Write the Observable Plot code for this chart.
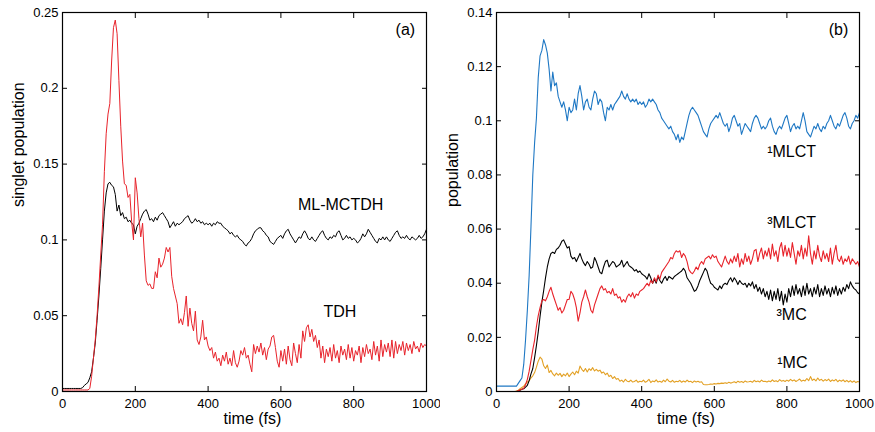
<!DOCTYPE html>
<html><head><meta charset="utf-8">
<script src="https://cdn.jsdelivr.net/npm/d3@7"></script>
<script src="https://cdn.jsdelivr.net/npm/@observablehq/plot@0.6"></script>
<style>
body{margin:0;background:#fff;}
#wrap{display:flex;width:875px;height:432px;}
</style></head><body><div id="wrap"></div>
<script>
// sample grid (fs)
const time = d3.range(0, 1001, 5);
const xTicks = [0, 200, 400, 600, 800, 1000];
const yTicksA = [0, 0.05, 0.1, 0.15, 0.2, 0.25];
const yTicksB = [0, 0.02, 0.04, 0.06, 0.08, 0.1, 0.12, 0.14];

// Panel (a)
const mlmctdh = [
0.002,0.002,0.002,0.002,0.002,0.002,0.002,0.002,0.002,0.002,
0.002,0.0025,0.004,0.005,0.006,0.009,0.013,0.022,0.032,0.047,
0.063,0.081,0.100,0.119,0.131,0.137,0.138,0.136,0.135,0.130,
0.119,0.123,0.116,0.118,0.114,0.115,0.112,0.113,0.111,0.110,
0.104,0.109,0.111,0.114,0.117,0.119,0.120,0.117,0.113,0.114,
0.112,0.115,0.113,0.116,0.117,0.118,0.116,0.114,0.112,0.108,
0.110,0.112,0.109,0.111,0.110,0.111,0.112,0.114,0.115,0.116,
0.113,0.111,0.112,0.114,0.112,0.113,0.111,0.112,0.110,0.111,
0.110,0.111,0.109,0.111,0.110,0.112,0.111,0.111,0.109,0.108,
0.107,0.106,0.104,0.105,0.103,0.102,0.103,0.101,0.100,0.099,
0.097,0.096,0.098,0.099,0.101,0.104,0.106,0.107,0.108,0.108,
0.106,0.105,0.103,0.102,0.099,0.098,0.097,0.099,0.101,0.102,
0.103,0.101,0.104,0.106,0.107,0.104,0.102,0.100,0.098,0.100,
0.102,0.101,0.104,0.106,0.104,0.101,0.100,0.102,0.100,0.099,
0.101,0.103,0.105,0.106,0.103,0.101,0.100,0.102,0.101,0.103,
0.102,0.105,0.106,0.103,0.100,0.101,0.103,0.101,0.102,0.100,
0.101,0.100,0.098,0.099,0.101,0.104,0.102,0.104,0.107,0.105,
0.103,0.101,0.099,0.098,0.101,0.100,0.102,0.100,0.102,0.100,
0.099,0.101,0.103,0.105,0.106,0.103,0.101,0.102,0.101,0.103,
0.101,0.100,0.102,0.101,0.100,0.101,0.103,0.101,0.102,0.104,
0.107];

const tdh = [
0.001,0.001,0.001,0.001,0.001,0.001,0.001,0.001,0.001,0.001,
0.001,0.001,0.001,0.001,0.001,0.002,0.010,0.022,0.034,0.050,
0.069,0.090,0.110,0.145,0.170,0.183,0.190,0.218,0.240,0.245,
0.236,0.205,0.175,0.152,0.137,0.136,0.128,0.130,0.112,0.100,
0.141,0.131,0.114,0.102,0.111,0.090,0.073,0.070,0.071,0.068,
0.068,0.079,0.075,0.088,0.082,0.084,0.088,0.095,0.092,0.095,
0.076,0.068,0.063,0.058,0.045,0.048,0.044,0.052,0.063,0.043,
0.055,0.045,0.040,0.053,0.034,0.031,0.036,0.047,0.034,0.036,
0.030,0.027,0.029,0.022,0.026,0.020,0.022,0.017,0.024,0.020,
0.026,0.018,0.022,0.017,0.027,0.019,0.016,0.020,0.027,0.024,
0.029,0.022,0.024,0.018,0.013,0.031,0.025,0.030,0.026,0.032,
0.024,0.029,0.021,0.028,0.030,0.036,0.037,0.029,0.020,0.016,
0.027,0.020,0.028,0.018,0.030,0.021,0.017,0.032,0.025,0.019,
0.031,0.022,0.040,0.033,0.042,0.044,0.036,0.041,0.033,0.037,
0.029,0.034,0.022,0.030,0.019,0.028,0.023,0.029,0.020,0.031,
0.022,0.027,0.019,0.030,0.024,0.028,0.021,0.031,0.022,0.029,
0.020,0.027,0.024,0.030,0.019,0.029,0.023,0.031,0.025,0.028,
0.021,0.033,0.024,0.030,0.020,0.034,0.023,0.031,0.026,0.032,
0.023,0.034,0.022,0.033,0.025,0.031,0.027,0.033,0.024,0.032,
0.027,0.031,0.025,0.033,0.028,0.030,0.026,0.032,0.029,0.031,
0.030];

// Panel (b)
const mlct1 = [
0.002,0.002,0.002,0.002,0.002,0.002,0.002,0.002,0.002,0.002,
0.002,0.002,0.003,0.004,0.005,0.010,0.019,0.030,0.043,0.061,
0.080,0.092,0.101,0.116,0.124,0.126,0.130,0.128,0.125,0.119,
0.111,0.118,0.113,0.114,0.109,0.107,0.105,0.107,0.104,0.100,
0.105,0.103,0.104,0.108,0.104,0.110,0.113,0.109,0.104,0.107,
0.108,0.105,0.104,0.108,0.111,0.110,0.106,0.108,0.107,0.103,
0.100,0.105,0.104,0.106,0.104,0.106,0.107,0.108,0.109,0.111,
0.109,0.108,0.110,0.108,0.107,0.108,0.107,0.108,0.106,0.107,
0.106,0.107,0.105,0.106,0.108,0.107,0.108,0.107,0.106,0.104,
0.103,0.101,0.100,0.099,0.098,0.097,0.098,0.096,0.095,0.093,
0.095,0.092,0.094,0.093,0.096,0.099,0.102,0.104,0.105,0.104,
0.103,0.102,0.100,0.098,0.096,0.095,0.094,0.097,0.099,0.100,
0.101,0.102,0.101,0.103,0.101,0.099,0.098,0.099,0.096,0.098,
0.101,0.102,0.100,0.098,0.099,0.095,0.097,0.099,0.098,0.097,
0.096,0.099,0.101,0.102,0.101,0.099,0.097,0.098,0.097,0.098,
0.100,0.101,0.098,0.096,0.095,0.097,0.098,0.097,0.099,0.101,
0.102,0.099,0.096,0.098,0.099,0.097,0.098,0.097,0.100,0.103,
0.100,0.096,0.095,0.094,0.096,0.098,0.097,0.099,0.097,0.096,
0.098,0.097,0.099,0.100,0.102,0.100,0.098,0.097,0.099,0.098,
0.100,0.102,0.103,0.101,0.098,0.097,0.099,0.100,0.102,0.101,
0.103];

const mlct3 = [
0,0,0,0,0,0,0,0,0,0,
0,0,0.0003,0.0006,0.0008,0.0012,0.0025,0.0045,0.0075,0.0115,
0.0155,0.019,0.024,0.028,0.031,0.0335,0.034,0.0335,0.035,0.037,
0.0385,0.036,0.034,0.032,0.030,0.031,0.029,0.030,0.032,0.034,
0.034,0.037,0.036,0.034,0.031,0.026,0.029,0.033,0.035,0.0375,
0.035,0.033,0.030,0.029,0.032,0.034,0.036,0.038,0.039,0.0375,
0.038,0.0365,0.037,0.036,0.038,0.0355,0.036,0.0345,0.035,0.033,
0.034,0.033,0.035,0.036,0.035,0.0365,0.0345,0.036,0.0355,0.037,
0.0375,0.038,0.039,0.040,0.039,0.041,0.040,0.042,0.0405,0.043,
0.0415,0.044,0.045,0.046,0.047,0.048,0.0495,0.049,0.051,0.052,
0.0515,0.052,0.0495,0.051,0.050,0.048,0.045,0.044,0.0435,0.0445,
0.046,0.045,0.047,0.048,0.047,0.049,0.0495,0.050,0.049,0.0505,
0.0495,0.050,0.048,0.047,0.046,0.048,0.050,0.048,0.047,0.049,
0.0475,0.050,0.048,0.051,0.046,0.049,0.047,0.051,0.048,0.050,
0.047,0.049,0.052,0.0525,0.048,0.051,0.053,0.049,0.052,0.050,
0.053,0.049,0.0545,0.050,0.052,0.048,0.053,0.055,0.050,0.054,
0.050,0.053,0.0495,0.055,0.051,0.047,0.052,0.050,0.054,0.049,
0.053,0.050,0.0575,0.051,0.047,0.052,0.049,0.054,0.050,0.048,
0.052,0.049,0.051,0.048,0.053,0.047,0.051,0.054,0.049,0.048,
0.050,0.047,0.049,0.048,0.050,0.047,0.049,0.048,0.047,0.048,
0.046];

const mc3 = [
0,0,0,0,0,0,0,0,0,0,
0,0,0.0002,0.0005,0.0008,0.001,0.0016,0.0023,0.004,0.0065,
0.0085,0.0125,0.017,0.022,0.0278,0.033,0.0373,0.042,0.046,0.049,
0.051,0.0515,0.051,0.0525,0.053,0.054,0.0555,0.056,0.0545,0.053,
0.0535,0.050,0.049,0.0495,0.048,0.0495,0.051,0.049,0.0475,0.0465,
0.048,0.047,0.0455,0.046,0.0495,0.048,0.046,0.044,0.0435,0.046,
0.048,0.0485,0.046,0.047,0.048,0.0475,0.046,0.0465,0.047,0.0485,
0.046,0.047,0.048,0.0465,0.046,0.0455,0.0445,0.045,0.044,0.0445,
0.0435,0.043,0.0425,0.0415,0.0435,0.042,0.040,0.0415,0.040,0.0425,
0.041,0.040,0.0415,0.0425,0.041,0.0425,0.042,0.0415,0.0425,0.043,
0.0435,0.044,0.0445,0.0455,0.0445,0.042,0.041,0.040,0.0385,0.037,
0.0375,0.039,0.041,0.0425,0.044,0.0455,0.0445,0.042,0.040,0.0395,
0.0385,0.038,0.0375,0.039,0.038,0.0395,0.040,0.0395,0.041,0.042,
0.0405,0.042,0.041,0.0395,0.041,0.040,0.0395,0.040,0.0385,0.040,
0.039,0.0405,0.038,0.0395,0.037,0.0385,0.036,0.038,0.035,0.037,
0.034,0.0375,0.0335,0.037,0.034,0.038,0.0335,0.037,0.032,0.036,
0.033,0.038,0.035,0.039,0.0355,0.0395,0.036,0.038,0.035,0.039,
0.0355,0.040,0.036,0.038,0.035,0.0385,0.036,0.0395,0.035,0.038,
0.0355,0.039,0.036,0.038,0.035,0.0385,0.036,0.039,0.0355,0.038,
0.036,0.0385,0.037,0.0395,0.038,0.0405,0.039,0.038,0.0375,0.0365,
0.036];

const mc1 = [
0,0,0,0,0,0,0,0,0,0,
0,0.0002,0.0005,0.001,0.0015,0.002,0.0028,0.0035,0.004,0.005,
0.0058,0.007,0.009,0.0112,0.0127,0.012,0.0095,0.0085,0.0098,0.007,
0.0078,0.0065,0.0058,0.0068,0.006,0.0067,0.0055,0.0064,0.0058,0.0068,
0.0055,0.0064,0.0072,0.0062,0.0075,0.0068,0.0094,0.0082,0.0074,0.0085,
0.0072,0.0084,0.0078,0.0088,0.0076,0.0082,0.0075,0.0079,0.0068,0.0072,
0.0062,0.0068,0.0055,0.006,0.0048,0.0055,0.0045,0.0048,0.0038,0.0042,
0.0035,0.0045,0.0038,0.0036,0.0042,0.0035,0.0037,0.0042,0.0034,0.0038,
0.0036,0.0042,0.0034,0.0038,0.0045,0.0033,0.0039,0.0036,0.0043,0.0035,
0.0038,0.0034,0.0042,0.0036,0.0046,0.0038,0.0035,0.0041,0.0034,0.0038,
0.0036,0.0041,0.0034,0.0039,0.0035,0.0042,0.0036,0.0038,0.0033,0.0039,
0.0035,0.0038,0.0034,0.0036,0.0026,0.0025,0.0025,0.0026,0.0028,0.0027,
0.0029,0.0028,0.0030,0.0029,0.0031,0.0030,0.0032,0.0030,0.0034,0.0031,
0.0033,0.0036,0.0032,0.0038,0.0034,0.0037,0.0033,0.0039,0.0035,0.0036,
0.0038,0.0034,0.0041,0.0036,0.0039,0.0035,0.0042,0.0037,0.0038,0.0035,
0.0039,0.0036,0.0043,0.0037,0.0040,0.0036,0.0044,0.0038,0.0041,0.0037,
0.0042,0.0038,0.0045,0.0039,0.0043,0.0037,0.0041,0.0046,0.0038,0.0042,
0.0039,0.0048,0.0040,0.0055,0.0041,0.0046,0.0039,0.0050,0.0041,0.0045,
0.0038,0.0044,0.0040,0.0046,0.0037,0.0043,0.0039,0.0045,0.0036,0.0042,
0.0038,0.0043,0.0036,0.0041,0.0035,0.0040,0.0034,0.0039,0.0033,0.0037,
0.0035];

// curve labels: text and anchor in data units
const labelsA = [
  {text: "(a)", t: 942, v: 0.2388},
  {text: "ML-MCTDH", t: 764, v: 0.1234},
  {text: "TDH", t: 762, v: 0.0528}
];
const labelsB = [
  {text: "(b)", t: 942, v: 0.1337},
  {text: "\u00b9MLCT", t: 813, v: 0.0887},
  {text: "\u00b3MLCT", t: 813, v: 0.0622},
  {text: "\u00b3MC", t: 813, v: 0.0283},
  {text: "\u00b9MC", t: 815, v: 0.0105}
];

const all = {mlmctdh, tdh, mlct1, mlct3, mc3, mc1};
for (const [k, arr] of Object.entries(all)) {
  if (arr.length !== time.length) throw new Error(k + " has " + arr.length + " values, expected " + time.length);
}

const font = "'Liberation Sans', Arial, Helvetica, sans-serif";

function panel({width, marginLeft, marginRight, yDomain, yTicks, series, labels, ylabel}) {
  return Plot.plot({
    width, height: 432, marginLeft, marginRight, marginTop: 12, marginBottom: 41,
    style: {fontFamily: font, fontSize: "13px", color: "black", background: "white", overflow: "visible"},
    x: {domain: [0, 1000]},
    y: {domain: yDomain},
    marks: [
      ...series.map(s => Plot.line(time.map((t, i) => ({t, v: s.values[i]})),
        {x: "t", y: "v", stroke: s.color, strokeWidth: s.width ?? 1})),
      Plot.frame({stroke: "black", strokeWidth: 1.2}),
      Plot.axisX(xTicks, {anchor: "bottom", tickSize: 0, tickPadding: 7, tickFormat: d3.format("d"), label: null}),
      Plot.axisX(xTicks, {anchor: "bottom", tickSize: -5, tickFormat: () => "", label: null}),
      Plot.axisX(xTicks, {anchor: "top", tickSize: -5, tickFormat: () => "", label: null}),
      Plot.axisY(yTicks, {anchor: "left", tickSize: 0, tickPadding: 4, tickFormat: d => String(d), label: null}),
      Plot.axisY(yTicks, {anchor: "left", tickSize: -5, tickFormat: () => "", label: null}),
      Plot.axisY(yTicks, {anchor: "right", tickSize: -5, tickFormat: () => "", label: null}),
      Plot.text([ylabel], {text: d => d, frameAnchor: "left", rotate: -90, dx: -44, dy: 5, fontSize: 16}),
      Plot.text(["time (fs)"], {text: d => d, frameAnchor: "bottom", dx: 8, dy: 32, fontSize: 16}),
      Plot.text(labels, {x: "t", y: "v", text: "text", fontSize: 16})
    ]
  });
}

const wrap = document.getElementById("wrap");
wrap.append(panel({
  width: 440, marginLeft: 62, marginRight: 14,
  yDomain: [0, 0.25], yTicks: yTicksA,
  series: [
    {values: mlmctdh, color: "#000000", width: 1},
    {values: tdh, color: "#e8232b", width: 1}
  ],
  labels: labelsA, ylabel: "singlet population"
}));
wrap.append(panel({
  width: 435, marginLeft: 56, marginRight: 16,
  yDomain: [0, 0.14], yTicks: yTicksB,
  series: [
    {values: mlct1, color: "#1f78c4", width: 1.1},
    {values: mc1, color: "#e3a125", width: 1.1},
    {values: mc3, color: "#000000", width: 1.1},
    {values: mlct3, color: "#e8232b", width: 1.1}
  ],
  labels: labelsB, ylabel: "population"
}));
</script></body></html>
